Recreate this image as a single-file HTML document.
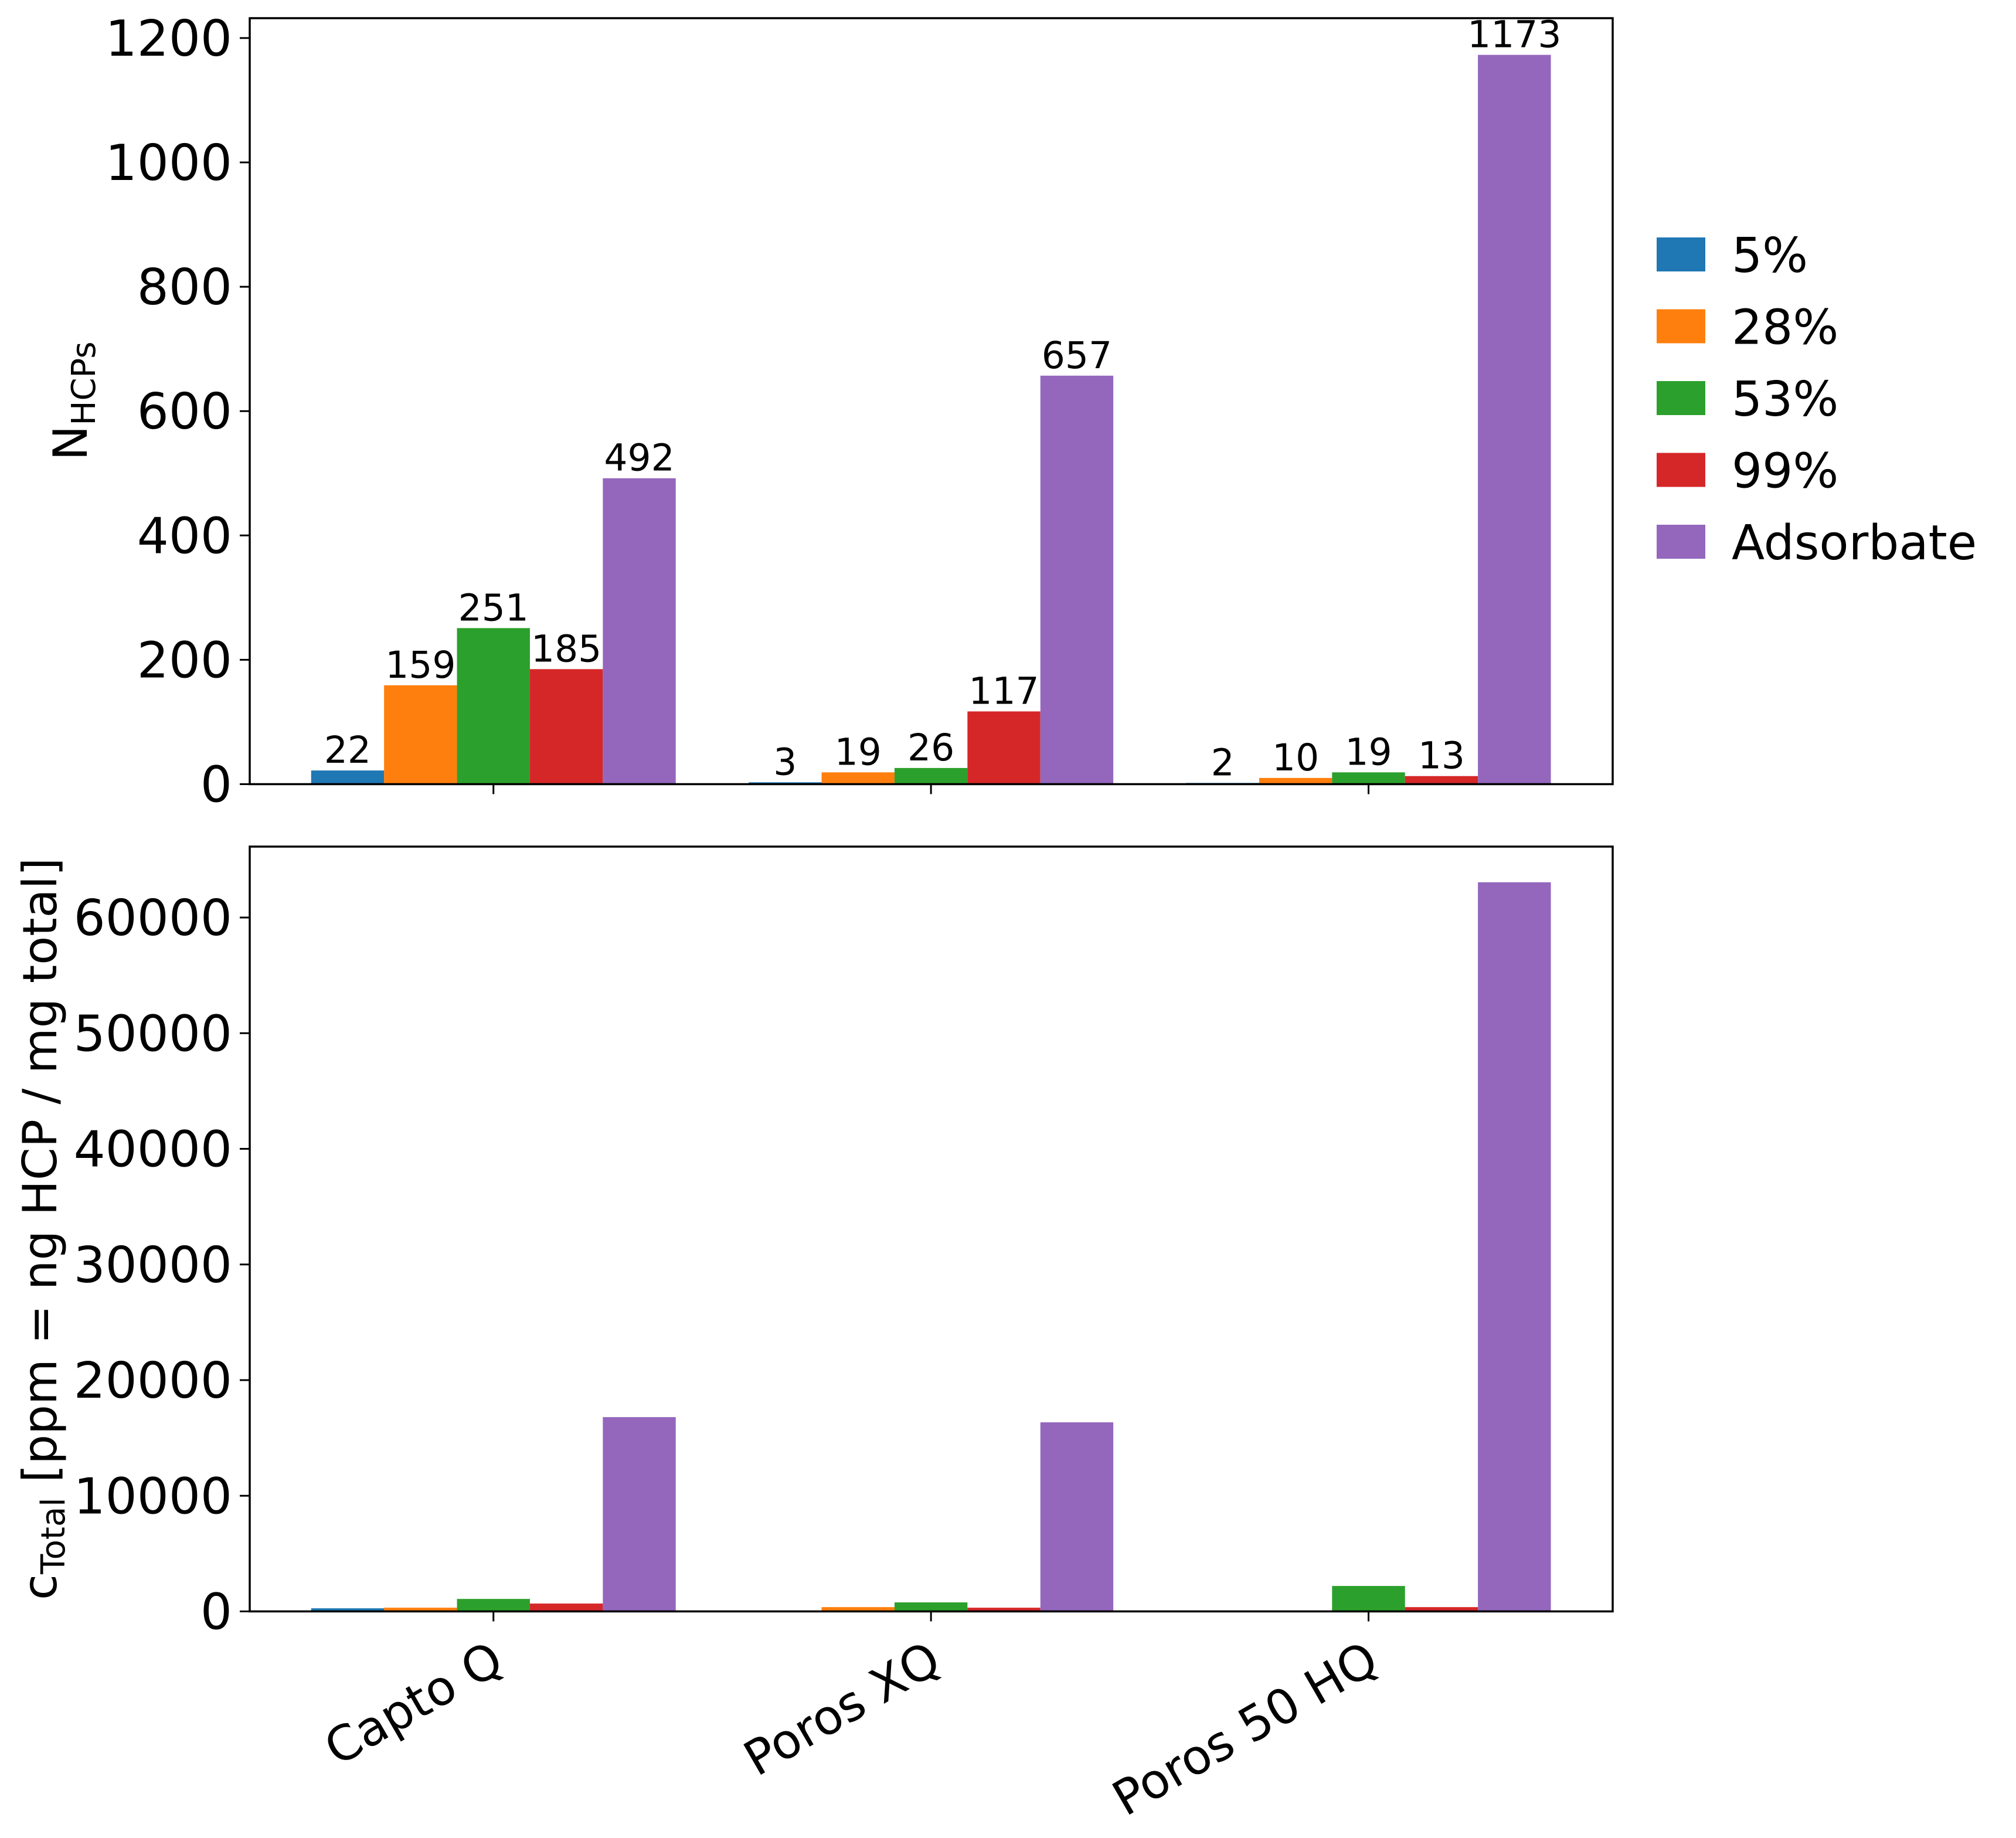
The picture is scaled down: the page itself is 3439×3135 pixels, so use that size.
<!DOCTYPE html>
<html>
<head>
<meta charset="utf-8">
<style>
html,body{margin:0;padding:0;background:#fff;}
svg{display:block;font-family:"DejaVu Sans","Liberation Sans",sans-serif;}
</style>
</head>
<body>
<svg id="chart" width="3439" height="3135" viewBox="0 0 3439 3135" xmlns="http://www.w3.org/2000/svg">
<rect x="0" y="0" width="3439" height="3135" fill="#fff"/>
<g id="top"></g>
<g id="bot"></g>
<g id="legend"></g>
<text transform="translate(148,684) rotate(-90)" text-anchor="middle" font-size="80">N<tspan font-size="56" dy="14">HCPs</tspan></text>
<text transform="translate(96,2096) rotate(-90)" text-anchor="middle" font-size="80">c<tspan font-size="56" dy="14">Total</tspan><tspan dy="-14"> [ppm = ng HCP / mg total]</tspan></text>
</svg>
<script>
const categories = ["Capto Q", "Poros XQ", "Poros 50 HQ"];
const seriesNames = ["5%", "28%", "53%", "99%", "Adsorbate"];
const seriesColors = ["#1f77b4", "#ff7f0e", "#2ca02c", "#d62728", "#9467bd"];
const countS5 = [22, 3, 2];
const countS28 = [159, 19, 10];
const countS53 = [251, 26, 19];
const countS99 = [185, 117, 13];
const countAds = [492, 657, 1173];
const concS5 = [270, 0, 0];
const concS28 = [320, 370, 0];
const concS53 = [1080, 780, 2200];
const concS99 = [680, 320, 370];
const concAds = [16800, 16350, 63050];
const topTicks = [0, 200, 400, 600, 800, 1000, 1200];
const botTicks = [0, 10000, 20000, 30000, 40000, 50000, 60000];

const NS = "http://www.w3.org/2000/svg";
const L = 426, R = 2751;
const xMin = -0.557, xMax = 2.558;
function xScale(v){ return L + (v - xMin) / (xMax - xMin) * (R - L); }
const barW = 1/6;

function mk(parent, tag, attrs){
  const e = document.createElementNS(NS, tag);
  for (const k in attrs) e.setAttribute(k, attrs[k]);
  parent.appendChild(e);
  return e;
}

function panel(gid, top, bottom, yMax, ticks, series, labels, showX){
  const g = document.getElementById(gid);
  const yScale = v => bottom - v / yMax * (bottom - top);
  series.forEach((vals, si) => {
    vals.forEach((v, ci) => {
      const xc = ci + (si - 2) * barW;
      const x0 = xScale(xc - barW/2), x1 = xScale(xc + barW/2);
      const r = mk(g, "rect", {x: x0, y: yScale(v), width: x1 - x0, height: bottom - yScale(v), fill: seriesColors[si]});
      
      
      if (labels){
        const t = mk(g, "text", {x: (x0 + x1)/2, y: yScale(v) - 13, "text-anchor": "middle", "font-size": 63});
        t.textContent = v;
        
        
      }
    });
  });
  ticks.forEach(tv => {
    const y = yScale(tv);
    mk(g, "line", {x1: L - 17, x2: L, y1: y, y2: y, stroke: "#000", "stroke-width": 3});
    const t = mk(g, "text", {x: L - 30, y: y + 30, "text-anchor": "end", "font-size": 85});
    t.textContent = tv;
    
    
  });
  categories.forEach((c, ci) => {
    const x = xScale(ci);
    mk(g, "line", {x1: x, x2: x, y1: bottom, y2: bottom + 17, stroke: "#000", "stroke-width": 3});
    if (showX){
      const t = mk(g, "text", {transform: `translate(${x + 22},2847) rotate(-30)`, "text-anchor": "end", "font-size": 82});
      t.textContent = c;
      
      
    }
  });
  const f = mk(g, "rect", {x: L, y: top, width: R - L, height: bottom - top, fill: "none", stroke: "#000", "stroke-width": 3.5});
  
  
}

panel("top", 31, 1337.5, 1232, topTicks, [countS5, countS28, countS53, countS99, countAds], true, false);
panel("bot", 1444, 2748.5, 66135, botTicks, [concS5, concS28, concS53, concS99, concAds], false, true);

const lg = document.getElementById("legend");
seriesNames.forEach((n, i) => {
  const y = 405 + i * 122.5;
  const r = mk(lg, "rect", {x: 2826, y: y, width: 83, height: 58, fill: seriesColors[i]});
  
  
  const t = mk(lg, "text", {x: 2954, y: y + 59, "font-size": 82});
  t.textContent = n;
  
  
});
</script>
</body>
</html>
